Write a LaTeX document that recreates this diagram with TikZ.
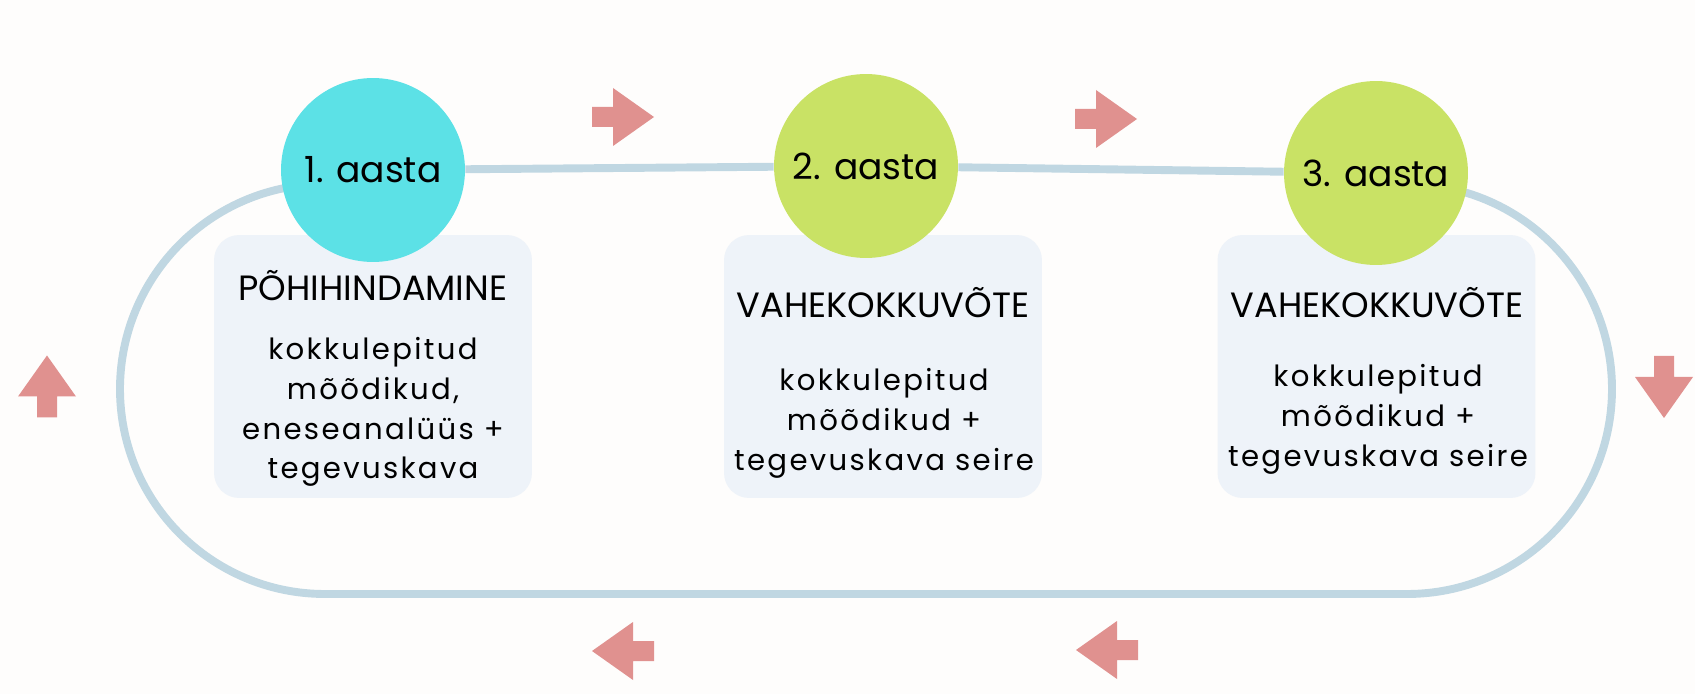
\documentclass[tikz,border=0pt]{standalone}
\usepackage{fontspec}
\setmainfont{Poppins}
\newfontfamily\spacedfont[LetterSpace=8]{Poppins}
\usetikzlibrary{positioning, backgrounds}
\definecolor{yearcyan}{HTML}{5CE1E6}
\definecolor{yearlime}{HTML}{C9E265}
\definecolor{boxfill}{HTML}{EEF3F9}
\definecolor{trackblue}{HTML}{C0D7E2}
\definecolor{arrowred}{HTML}{E0918F}
\definecolor{paper}{HTML}{FEFDFC}
\tikzset{
year/.style={circle, minimum size=3.68cm, inner sep=0pt, font=\fontsize{20.5}{24}\selectfont}, % round badge for each year
infobox/.style={rounded corners=0.5cm, fill=boxfill, minimum width=6.36cm, minimum height=5.26cm}, % light panel under a badge
boxtitle/.style={font=\fontsize{20}{24}\selectfont}, % heading in capitals
boxtext/.style={align=center, font=\spacedfont\fontsize{16.6}{22.7}\selectfont}, % spaced body text
track/.style={trackblue, line width=4.5pt}, % the loop that joins the years
pics/turnarrow/.style={code={
  \fill[arrowred] (-31,-10) -- (-10,-10) -- (-10,-29) -- (31,0) -- (-10,29) -- (-10,10) -- (-31,10) -- cycle;
}}, % block arrow, points right before rotating
}

\begin{document}
\begin{tikzpicture}[x=0.02cm, y=0.02cm]
\useasboundingbox (0,0) rectangle (1695,694);

% panels first, badges on top of them
\node[infobox] (b1) at (373,327.5) {};
\node[infobox] (b2) at (883,327.5) {};
\node[infobox] (b3) at (1376.5,327.5) {};

\node[year, fill=yearcyan] (y1) at (373,524) {1. aasta};
\node[year, fill=yearlime] (y2) at (866,528) {2. aasta};
\node[year, fill=yearlime] (y3) at (1376,521) {3. aasta};

\node[boxtitle] (h1) at (373,408) {PÕHIHINDAMINE};
\node[boxtitle] (h2) at (883,391) {VAHEKOKKUVÕTE};
\node[boxtitle] (h3) at (1377,391) {VAHEKOKKUVÕTE};

\node[boxtext] (d1) at (373,282) {kokkulepitud\\mõõdikud,\\eneseanalüüs +\\tegevuskava};
\node[boxtext] (d2) at (884,270.5) {kokkulepitud\\mõõdikud +\\tegevuskava seire};
\node[boxtext] (d3) at (1378,275) {kokkulepitud\\mõõdikud +\\tegevuskava seire};

% direction arrows round the loop
\pic at (623,577) {turnarrow};
\pic at (1106,575) {turnarrow};
\pic[rotate=-90] at (1664,307) {turnarrow};
\pic[rotate=180] at (1107,44) {turnarrow};
\pic[rotate=180] at (623,43) {turnarrow};
\pic[rotate=90] at (47,307.5) {turnarrow};

\begin{scope}[on background layer]
  \fill[paper] (0,0) rectangle (1695,694);
  \coordinate (bl) at (325,100);
  \coordinate (br) at (1407,100);
  \draw[track] (y1) -- (y2) -- (y3);
  \draw[track] (bl) -- (br) arc[start angle=-90, end angle=75, radius=205];
  \draw[track] (bl) arc[start angle=270, end angle=100, radius=205];
\end{scope}
\end{tikzpicture}
\end{document}
